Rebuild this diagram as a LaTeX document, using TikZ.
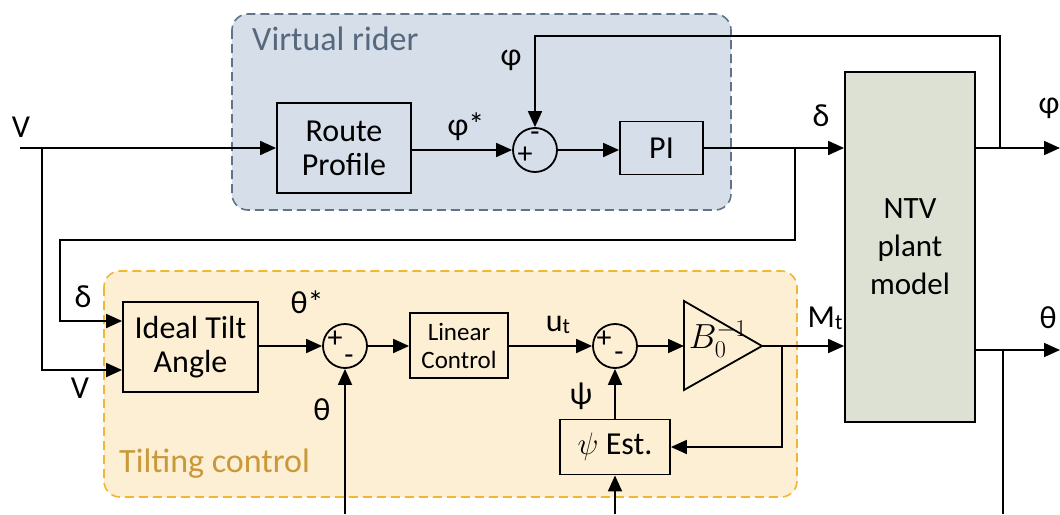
\documentclass[tikz,border=0pt]{standalone}
\usepackage{fontspec}
\setmainfont{Carlito}
\usetikzlibrary{positioning,arrows.meta}
\definecolor{riderfill}{RGB}{214,222,233}
\definecolor{riderline}{RGB}{95,115,137}
\definecolor{ridertext}{RGB}{86,104,126}
\definecolor{tiltfill}{RGB}{253,239,212}
\definecolor{tiltline}{RGB}{242,182,48}
\definecolor{tilttext}{RGB}{201,152,56}
\definecolor{plantfill}{RGB}{221,225,211}
\newcommand{\subt}{\raisebox{-2pt}{\fontsize{22}{22}\selectfont t}}
\tikzset{
block/.style={draw, line width=1.8pt, align=center, inner sep=0pt, font=\fontsize{32}{34}\selectfont},
sumnode/.style={draw, circle, line width=1.8pt, minimum size=44pt, inner sep=0pt},
sign/.style={font=\fontsize{30}{30}\selectfont, inner sep=0pt},
lbl/.style={font=\fontsize{32}{32}\selectfont, inner sep=0pt},
group/.style={line width=1.6pt, dash pattern=on 9pt off 5pt, rounded corners=16pt}
}
\begin{document}
\begin{tikzpicture}[x=1pt,y=-1pt,line width=1.8pt,>={Triangle[length=16pt,width=14pt]}]
\useasboundingbox (0,0) rectangle (1060,514);
% groups
\draw [group, draw=riderline, fill=riderfill] (232,14) rectangle (731,210);
\node [anchor=west, text=ridertext, font=\fontsize{34}{34}\selectfont] (riderlabel) at (248,39) {Virtual rider};
\draw [group, draw=tiltline, fill=tiltfill] (104,271) rectangle (797,497);
\node [anchor=west, text=tilttext, font=\fontsize{34}{34}\selectfont] (tiltlabel) at (115,464) {Tilting control};

% blocks
\node [block, fill=riderfill, minimum width=134pt, minimum height=90pt] (route) at (344,148) {Route\\Profile};
\node [sumnode, fill=riderfill] (sumphi) at (535,150) {};
\node [block, fill=riderfill, minimum width=83pt, minimum height=53pt] (pi) at (661.5,148) {PI};
\node [block, fill=plantfill, minimum width=130pt, minimum height=350pt, font=\fontsize{31}{38}\selectfont] (ntv) at (910,247) {NTV\\plant\\model};
\node [block, fill=tiltfill, minimum width=135pt, minimum height=90pt] (tilt) at (190.5,347) {Ideal Tilt\\Angle};
\node [sumnode, fill=tiltfill] (sumtheta) at (345,346) {};
\node [block, fill=tiltfill, minimum width=98pt, minimum height=65pt, font=\fontsize{25}{28}\selectfont] (lin) at (459,345.5) {Linear\\Control};
\node [sumnode, fill=tiltfill] (sumpsi) at (615,346) {};
\node [block, fill=tiltfill, minimum width=110pt, minimum height=55pt] (est) at (615,447) {\scalebox{1.25}{$\psi$} Est.};
% gain triangle
\coordinate (gainin) at (684,346);
\coordinate (gainout) at (762,346);
\draw [fill=tiltfill] (684,301) -- (gainout) -- (684,390) -- cycle;
\node [inner sep=0pt, font=\fontsize{24}{24}\selectfont] (gain) at (718,339) {\scalebox{1.4}{$B_0^{-1}$}};

% signs
\node [sign] (sphim) at (535,137) {-};
\node [sign] (sphip) at (525,155) {+};
\node [sign] (sthp) at (335,339) {+};
\node [sign] (sthm) at (349,360) {-};
\node [sign] (spsp) at (604,339) {+};
\node [sign] (spsm) at (619,357) {-};

% free ends
\coordinate (vin) at (20,148);
\coordinate (vsplit) at (42,148);
\coordinate (dsplit) at (795,148);
\coordinate (dlow) at (795,240);
\coordinate (dleft) at (60,240);
\coordinate (phisplit) at (1000,148);
\coordinate (phitop) at (1000,36);
\coordinate (phiout) at (1060,148);
\coordinate (thetaout) at (1060,350);
\coordinate (thetasplit) at (1003,350);
\coordinate (thetabot) at (1003,514);
\coordinate (thetafb) at (345,514);
\coordinate (estin) at (615,514);
\coordinate (msplit) at (782,346);
\coordinate (mlow) at (782,447);

% connectors
\draw [->] (vin) -- (route.west);
\draw [->] (vsplit) |- ([yshift=-23pt]tilt.west);
\draw [->] (route.east |- sumphi.west) -- (sumphi.west);
\draw [->] (sumphi.east) -- (pi.west |- sumphi.east);
\draw [->] (pi.east) -- (ntv.west |- pi.east);
\draw [->] (dsplit) -- (dlow) -- (dleft) |- ([yshift=26pt]tilt.west);
\draw [->] (ntv.east |- route) -- (phiout);
\draw [->] (phisplit) -- (phitop) -| (sumphi.north);
\draw [->] (ntv.east |- thetaout) -- (thetaout);
\draw (thetasplit) -- (thetabot);
\draw [->] (tilt.east |- sumtheta.west) -- (sumtheta.west);
\draw [->] (sumtheta.east) -- (lin.west |- sumtheta.east);
\draw [->] (thetafb) -- (sumtheta.south);
\draw [->] (lin.east |- sumpsi.west) -- (sumpsi.west);
\draw [->] (sumpsi.east) -- (gainin);
\draw [->] (gainout) -- (ntv.west |- gainout);
\draw [->] (msplit) -- (mlow) -- (est.east);
\draw [->] (est.north) -- (sumpsi.south);
\draw [->] (estin) -- (est.south);

% labels
\node [lbl] (lv) at (21,127) {V};
\node [lbl] (lphistar) at (466,127) {φ*};
\node [lbl] (lphifb) at (511,60) {φ};
\node [lbl] (ldelta) at (821,116) {δ};
\node [lbl] (lphiout) at (1049,108) {φ};
\node [lbl] (lthetaout) at (1048,318) {θ};
\node [lbl] (ldeltain) at (83,297) {δ};
\node [lbl] (lvin) at (80,388) {V};
\node [lbl] (lthetastar) at (307,302) {θ*};
\node [lbl] (ltheta) at (322,410) {θ};
\node [lbl] (lut) at (558,325) {u\subt};
\node [lbl] (lpsi) at (581,396) {ψ};
\node [lbl] (lmt) at (825,318) {M\subt};
\end{tikzpicture}
\end{document}
